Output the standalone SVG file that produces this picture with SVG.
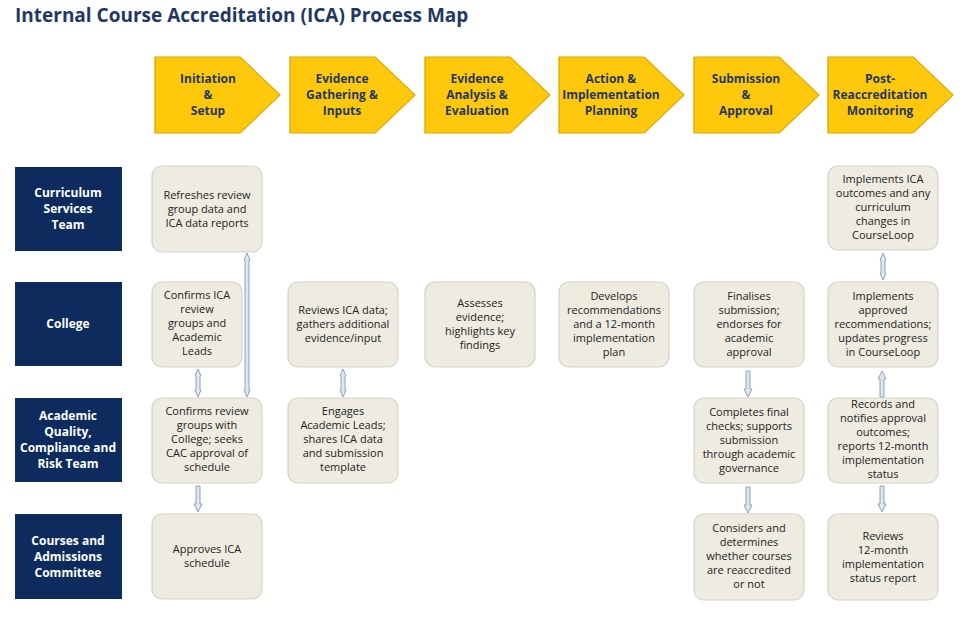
<svg xmlns="http://www.w3.org/2000/svg" width="970" height="625" viewBox="0 0 970 625">
<defs>
<style>
text{font-family:"Open Sans","Liberation Sans",sans-serif}
.t{font-size:19px;font-weight:bold;fill:#1f3864}
.ch{fill:#ffc80a;stroke:#d9a900;stroke-width:1}
.cht{font-size:12px;font-weight:bold;fill:#1f3864;text-anchor:middle}
.lb{fill:#0d2b5c}
.lbt{font-size:12px;font-weight:bold;fill:#fff;text-anchor:middle}
.n{fill:#eeece1;stroke:#d6d3c8;stroke-width:1.2}
.nt{font-size:11px;fill:#222;text-anchor:middle}
.ar{fill:#dfe6ef;stroke:#8ea3bb;stroke-width:1}
</style>
<path id="hd" d="M0,0 L64,0 L94,38 L64,76 L0,76 Z"/>
</defs>
<text class="t" x="15" y="22">Internal Course Accreditation (ICA) Process Map</text>

<g id="phases">
<g id="p1"><use href="#hd" class="ch" transform="translate(155,57) scale(1.33,1)"/><text class="cht" x="208"><tspan x="208" y="83">Initiation</tspan><tspan x="208" y="99">&amp;</tspan><tspan x="208" y="115">Setup</tspan></text></g>
<g id="p2"><use href="#hd" class="ch" transform="translate(290,57) scale(1.33,1)"/><text class="cht"><tspan x="342" y="83">Evidence</tspan><tspan x="342" y="99">Gathering &amp;</tspan><tspan x="342" y="115">Inputs</tspan></text></g>
<g id="p3"><use href="#hd" class="ch" transform="translate(425,57) scale(1.33,1)"/><text class="cht"><tspan x="477" y="83">Evidence</tspan><tspan x="477" y="99">Analysis &amp;</tspan><tspan x="477" y="115">Evaluation</tspan></text></g>
<g id="p4"><use href="#hd" class="ch" transform="translate(559,57) scale(1.33,1)"/><text class="cht"><tspan x="611" y="83">Action &amp;</tspan><tspan x="611" y="99">Implementation</tspan><tspan x="611" y="115">Planning</tspan></text></g>
<g id="p5"><use href="#hd" class="ch" transform="translate(694,57) scale(1.33,1)"/><text class="cht"><tspan x="746" y="83">Submission</tspan><tspan x="746" y="99">&amp;</tspan><tspan x="746" y="115">Approval</tspan></text></g>
<g id="p6"><use href="#hd" class="ch" transform="translate(828,57) scale(1.33,1)"/><text class="cht"><tspan x="880" y="83">Post-</tspan><tspan x="880" y="99">Reaccreditation</tspan><tspan x="880" y="115">Monitoring</tspan></text></g>
</g>

<g id="lanes">
<g id="l1"><rect class="lb" x="15" y="167" width="107" height="84"/><text class="lbt"><tspan x="68" y="197">Curriculum</tspan><tspan x="68" y="213">Services</tspan><tspan x="68" y="229">Team</tspan></text></g>
<g id="l2"><rect class="lb" x="15" y="282" width="107" height="84"/><text class="lbt" x="68" y="328">College</text></g>
<g id="l3"><rect class="lb" x="15" y="398" width="107" height="84"/><text class="lbt"><tspan x="68" y="420">Academic</tspan><tspan x="68" y="436">Quality,</tspan><tspan x="68" y="452">Compliance and</tspan><tspan x="68" y="468">Risk Team</tspan></text></g>
<g id="l4"><rect class="lb" x="15" y="514" width="107" height="85"/><text class="lbt"><tspan x="68" y="545">Courses and</tspan><tspan x="68" y="561">Admissions</tspan><tspan x="68" y="577">Committee</tspan></text></g>
</g>

<g id="nodes">
<g id="n1"><rect class="n" x="152" y="166" width="110" height="86" rx="10"/><text class="nt"><tspan x="207" y="199">Refreshes review</tspan><tspan x="207" y="213">group data and</tspan><tspan x="207" y="227">ICA data reports</tspan></text></g>
<g id="n2"><rect class="n" x="152" y="282" width="90" height="85" rx="10"/><text class="nt"><tspan x="197" y="299">Confirms ICA</tspan><tspan x="197" y="313">review</tspan><tspan x="197" y="327">groups and</tspan><tspan x="197" y="341">Academic</tspan><tspan x="197" y="355">Leads</tspan></text></g>
<g id="n3"><rect class="n" x="152" y="398" width="110" height="85" rx="10"/><text class="nt"><tspan x="207" y="415">Confirms review</tspan><tspan x="207" y="429">groups with</tspan><tspan x="207" y="443">College; seeks</tspan><tspan x="207" y="457">CAC approval of</tspan><tspan x="207" y="471">schedule</tspan></text></g>
<g id="n4"><rect class="n" x="152" y="514" width="110" height="85" rx="10"/><text class="nt"><tspan x="207" y="553">Approves ICA</tspan><tspan x="207" y="567">schedule</tspan></text></g>
<g id="n5"><rect class="n" x="288" y="282" width="110" height="85" rx="10"/><text class="nt"><tspan x="343" y="314">Reviews ICA data;</tspan><tspan x="343" y="328">gathers additional</tspan><tspan x="343" y="342">evidence/input</tspan></text></g>
<g id="n6"><rect class="n" x="288" y="398" width="110" height="85" rx="10"/><text class="nt"><tspan x="343" y="415">Engages</tspan><tspan x="343" y="429">Academic Leads;</tspan><tspan x="343" y="443">shares ICA data</tspan><tspan x="343" y="457">and submission</tspan><tspan x="343" y="471">template</tspan></text></g>
<g id="n7"><rect class="n" x="425" y="282" width="110" height="85" rx="10"/><text class="nt"><tspan x="480" y="307">Assesses</tspan><tspan x="480" y="321">evidence;</tspan><tspan x="480" y="335">highlights key</tspan><tspan x="480" y="349">findings</tspan></text></g>
<g id="n8"><rect class="n" x="559" y="282" width="110" height="85" rx="10"/><text class="nt"><tspan x="614" y="300">Develops</tspan><tspan x="614" y="314">recommendations</tspan><tspan x="614" y="328">and a 12-month</tspan><tspan x="614" y="342">implementation</tspan><tspan x="614" y="356">plan</tspan></text></g>
<g id="n9"><rect class="n" x="694" y="282" width="110" height="85" rx="10"/><text class="nt"><tspan x="749" y="300">Finalises</tspan><tspan x="749" y="314">submission;</tspan><tspan x="749" y="328">endorses for</tspan><tspan x="749" y="342">academic</tspan><tspan x="749" y="356">approval</tspan></text></g>
<g id="n10"><rect class="n" x="694" y="398" width="110" height="85" rx="10"/><text class="nt"><tspan x="749" y="416">Completes final</tspan><tspan x="749" y="430">checks; supports</tspan><tspan x="749" y="444">submission</tspan><tspan x="749" y="458">through academic</tspan><tspan x="749" y="472">governance</tspan></text></g>
<g id="n11"><rect class="n" x="694" y="514" width="110" height="86" rx="10"/><text class="nt"><tspan x="749" y="532">Considers and</tspan><tspan x="749" y="546">determines</tspan><tspan x="749" y="560">whether courses</tspan><tspan x="749" y="574">are reaccredited</tspan><tspan x="749" y="588">or not</tspan></text></g>
<g id="n12"><rect class="n" x="828" y="166" width="110" height="84" rx="10"/><text class="nt"><tspan x="883" y="183">Implements ICA</tspan><tspan x="883" y="197">outcomes and any</tspan><tspan x="883" y="211">curriculum</tspan><tspan x="883" y="225">changes in</tspan><tspan x="883" y="239">CourseLoop</tspan></text></g>
<g id="n13"><rect class="n" x="828" y="282" width="110" height="85" rx="10"/><text class="nt"><tspan x="883" y="300">Implements</tspan><tspan x="883" y="314">approved</tspan><tspan x="883" y="328">recommendations;</tspan><tspan x="883" y="342">updates progress</tspan><tspan x="883" y="356">in CourseLoop</tspan></text></g>
<g id="n14"><rect class="n" x="828" y="398" width="110" height="85" rx="10"/><text class="nt"><tspan x="883" y="408">Records and</tspan><tspan x="883" y="422">notifies approval</tspan><tspan x="883" y="436">outcomes;</tspan><tspan x="883" y="450">reports 12-month</tspan><tspan x="883" y="464">implementation</tspan><tspan x="883" y="478">status</tspan></text></g>
<g id="n15"><rect class="n" x="828" y="514" width="110" height="86" rx="10"/><text class="nt"><tspan x="883" y="540">Reviews</tspan><tspan x="883" y="554">12-month</tspan><tspan x="883" y="568">implementation</tspan><tspan x="883" y="582">status report</tspan></text></g>
</g>

<g id="connectors">
<path class="ar" d="M195,376 L198,369 L201,376 L200,376 L200,390 L201,390 L198,397 L195,390 L196,390 L196,376 Z" transform="translate(0,0) scale(1)"/>
<path class="ar" d="M244,260 L247,253 L250,260 L249,260 L249,390 L250,390 L247,397 L244,390 L245,390 L245,260 Z"/>
<path class="ar" d="M196,486 L200,486 L200,504 L202,504 L198,512 L194,504 L196,504 Z"/>
<path class="ar" d="M340,376 L343,369 L346,376 L345,376 L345,390 L346,390 L343,397 L340,390 L341,390 L341,376 Z"/>
<path class="ar" d="M746,371 L750,371 L750,389 L752,389 L748,397 L744,389 L746,389 Z"/>
<path class="ar" d="M746,487 L750,487 L750,505 L752,505 L748,513 L744,505 L746,505 Z"/>
<path class="ar" d="M880,260 L883,253 L886,260 L885,260 L885,273 L886,273 L883,280 L880,273 L881,273 L881,260 Z"/>
<path class="ar" d="M880,397 L884,397 L884,379 L886,379 L882,371 L878,379 L880,379 Z"/>
<path class="ar" d="M880,486 L884,486 L884,504 L886,504 L882,512 L878,504 L880,504 Z"/>
</g>
</svg>
